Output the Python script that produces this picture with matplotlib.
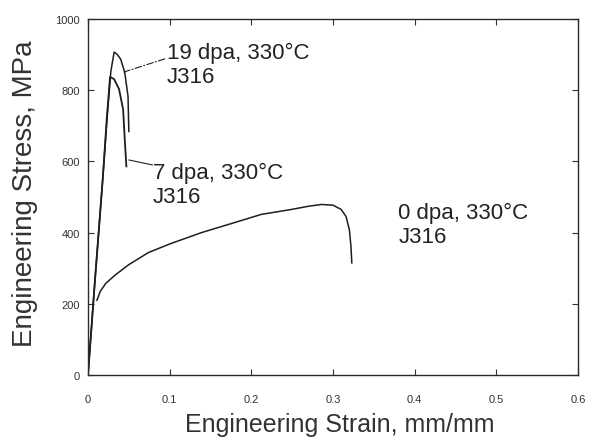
import matplotlib
matplotlib.use("Agg")
import matplotlib.pyplot as plt

plt.rcParams['font.family'] = ['Liberation Sans', 'DejaVu Sans']

# 0 dpa, 330C J316
strain_0 = [0.011, 0.015, 0.022, 0.034, 0.050, 0.074, 0.100, 0.139, 0.175, 0.212, 0.249, 0.270, 0.286, 0.300, 0.310, 0.316, 0.320, 0.322, 0.323]
stress_0 = [210, 235, 258, 282, 310, 344, 368, 400, 425, 451, 465, 474, 479, 477, 465, 445, 408, 360, 315]

# 7 dpa, 330C J316
strain_7 = [0.0, 0.008, 0.018, 0.023, 0.027, 0.032, 0.038, 0.043, 0.045, 0.047]
stress_7 = [0, 250, 549, 720, 837, 831, 803, 746, 662, 586]

# 19 dpa, 330C J316
strain_19 = [0.0, 0.008, 0.018, 0.024, 0.028, 0.032, 0.036, 0.040, 0.045, 0.049, 0.050]
stress_19 = [0, 250, 549, 740, 853, 907, 900, 887, 850, 783, 684]

xticks = [0, 0.1, 0.2, 0.3, 0.4, 0.5, 0.6]
xtick_labels = ["0", "0.1", "0.2", "0.3", "0.4", "0.5", "0.6"]
yticks = [0, 200, 400, 600, 800, 1000]
ytick_labels = ["0", "200", "400", "600", "800", "1000"]

fig = plt.figure(figsize=(5.89, 4.39), dpi=100)
ax = fig.add_axes([0.1494, 0.1435, 0.832, 0.811])

lc = "#1e1e1e"
ax.plot(strain_0, stress_0, color=lc, lw=1.1)
ax.plot(strain_7, stress_7, color=lc, lw=1.3)
ax.plot(strain_19, stress_19, color=lc, lw=1.1)

ax.set_xlim(0, 0.6)
ax.set_ylim(0, 1000)
ax.set_xticks(xticks)
ax.set_xticklabels(xtick_labels)
ax.set_yticks(yticks)
ax.set_yticklabels(ytick_labels)
ax.tick_params(axis="both", direction="in", top=True, right=True, length=4, width=0.8,
               labelsize=8, colors="#333333")
ax.tick_params(axis="x", pad=14)
ax.tick_params(axis="y", pad=6)
for s in ax.spines.values():
    s.set_color("#2a2a2a")
    s.set_linewidth(1.0)

ax.set_xlabel("Engineering Strain, mm/mm", fontsize=18, color="#333333")
ax.xaxis.set_label_coords(0.514, -0.104)
ax.set_ylabel("Engineering Stress, MPa", fontsize=20, color="#333333")
ax.yaxis.set_label_coords(-0.102, 0.513)

tc = "#222222"
ax.annotate("", xy=(0.044, 851), xytext=(0.094, 888),
            arrowprops=dict(arrowstyle="-", color=tc, lw=0.8, linestyle=(0, (6, 2, 1, 2)),
                            shrinkA=0, shrinkB=0))
ax.annotate("", xy=(0.050, 604), xytext=(0.079, 590),
            arrowprops=dict(arrowstyle="-", color=tc, lw=0.8, shrinkA=0, shrinkB=0))

ax.text(0.0967, 935, "19 dpa, 330°C\nJ316", fontsize=16, color=tc,
        va="top", ha="left", linespacing=1.2)
ax.text(0.0796, 598, "7 dpa, 330°C\nJ316", fontsize=16, color=tc,
        va="top", ha="left", linespacing=1.2)
ax.text(0.380, 486, "0 dpa, 330°C\nJ316", fontsize=16, color=tc,
        va="top", ha="left", linespacing=1.2)

fig.savefig("out.png", dpi=100)
